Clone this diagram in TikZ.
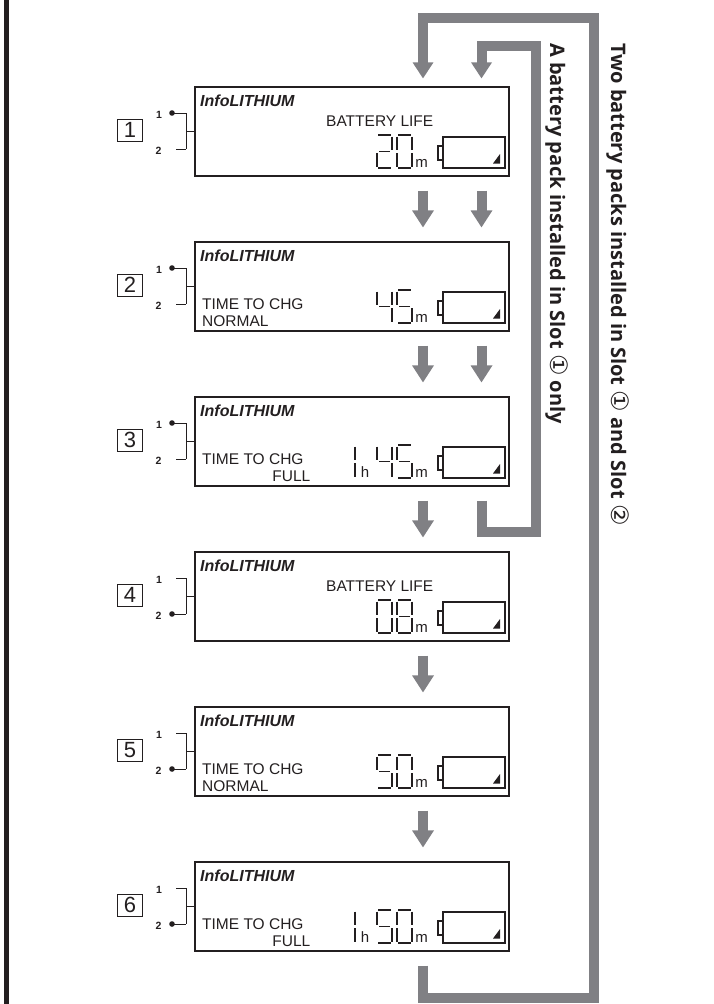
\documentclass[tikz,border=0pt]{standalone}
\usepackage{fontspec}
\setmainfont{Liberation Sans}
\newfontfamily\lblfont{Open Sans}
\newfontfamily\symfont{DejaVu Sans}
\usetikzlibrary{calc}

\definecolor{pgray}{HTML}{808084}
\definecolor{ink}{HTML}{231F20}

\tikzset{
 display/.style={draw=ink, line width=1.3pt, minimum width=314pt, minimum height=89pt, inner sep=0pt},
 numsq/.style={draw=ink, line width=1pt, minimum width=25pt, minimum height=22pt, inner sep=0pt, font=\fontsize{22}{22}\selectfont, text=ink},
 slotlbl/.style={font=\bfseries\fontsize{10.5}{10.5}\selectfont, inner sep=0pt, text=ink},
 brk/.style={draw=ink, line width=1pt},
 seg/.style={draw=ink, line width=1.7pt},
 lcd/.style={font=\fontsize{15.5}{15.5}\selectfont, inner sep=0pt, text=ink},
 brand/.style={font=\bfseries\itshape\fontsize{16}{16}\selectfont, inner sep=0pt, text=ink},
 unitlbl/.style={font=\fontsize{15}{15}\selectfont, inner sep=0pt, text=ink},
 flowline/.style={draw=pgray, line width=10pt, line join=miter},
 sidelabel/.style={font=\lblfont\bfseries\fontsize{20}{20}\selectfont, rotate=-90, anchor=base west, inner sep=0pt, text=ink},
 slotdot/.style={circle, fill=ink, inner sep=0pt, minimum size=5.6pt},
}

% seven segment pieces: #1 = left x, #2 = top y
\newcommand\lcdsega[2]{\draw[seg] (#1+1,#2) -- (#1+14,#2);}
\newcommand\lcdsegb[2]{\draw[seg] (#1+15,#2+1.5) -- (#1+15,#2+15);}
\newcommand\lcdsegc[2]{\draw[seg] (#1+15,#2+18) -- (#1+15,#2+31.5);}
\newcommand\lcdsegd[2]{\draw[seg] (#1+1,#2+33) -- (#1+14,#2+33);}
\newcommand\lcdsege[2]{\draw[seg] (#1,#2+18) -- (#1,#2+31.5);}
\newcommand\lcdsegf[2]{\draw[seg] (#1,#2+1.5) -- (#1,#2+15);}
\newcommand\lcdsegg[2]{\draw[seg] (#1+2,#2+16.5) -- (#1+13,#2+16.5);}
\newcommand\lcddigit[3]{\edef\lcdlist{#3}\foreach \s in \lcdlist {\csname lcdseg\s\endcsname{#1}{#2}}}
\newcommand\digzero{a,b,c,d,e,f}
\newcommand\digone{b,c}
\newcommand\digtwo{a,b,g,e,d}
\newcommand\digfour{f,g,b,c}
\newcommand\digfive{a,f,g,c,d}
\newcommand\digeight{a,b,c,d,e,f,g}
\newcommand\circnum[1]{{\symfont\mdseries\fontsize{24}{24}\selectfont #1}}

% display frame: #1 name, #2 number, #3 top y, #4 active slot, #5 extra content
\newcommand\dispframe[5]{%
 \begin{scope}[shift={(0,#3)}]
  \node[display] (#1) at (352,44.5) {};
  \node[numsq] (n#1) at (130,43) {#2};
  \node[slotlbl] (sa#1) at (159,27.5) {1};
  \node[slotlbl] (sb#1) at (158.5,63.5) {2};
  \coordinate (bt#1) at (186,26);
  \coordinate (bb#1) at (186,62);
  \coordinate (bm#1) at (186,44);
  \draw[brk] (bt#1) -- (bb#1);
  \draw[brk] (bm#1) -- (bm#1 -| #1.west);
  \ifnum#4=1
   \node[slotdot] (dot#1) at (172,26) {};
   \draw[brk] (dot#1.center) -- (bt#1);
   \coordinate (ln#1) at (176,62);
   \draw[brk] (ln#1) -- (bb#1);
  \else
   \node[slotdot] (dot#1) at (172,62) {};
   \draw[brk] (dot#1.center) -- (bb#1);
   \coordinate (ln#1) at (176,26);
   \draw[brk] (ln#1) -- (bt#1);
  \fi
  \node[brand, anchor=base west] (br#1) at (200,19.5) {InfoLITHIUM};
  \node[unitlbl, anchor=base] (m#1) at (421.5,80) {m};
  \draw[ink, line width=1.5pt] (443,50) rectangle (505,81);
  \draw[ink, line width=1.2pt] (438,59) rectangle (443,73);
  \fill[ink] (493,76.5) -- (500,76.5) -- (500,67) -- cycle;
  #5
 \end{scope}}

\newcommand\garrow[2]{%
 \draw[flowline] (#1) -- ($(#2)+(0,-16.5)$);
 \fill[pgray] (#2) -- ++(-11,-17) -- ++(22,0) -- cycle;}

\begin{document}
\begin{tikzpicture}[x=1pt,y=-1pt]
\useasboundingbox (0,0) rectangle (714,1004);
\fill[ink] (4,0) rectangle (8.5,1004);

\dispframe{d1}{1}{87}{1}{%
  \node[lcd, anchor=base east] (t1) at (433.5,39.5) {BATTERY LIFE};
  \lcddigit{377}{48}{\digtwo}
  \lcddigit{397}{48}{\digzero}}
\dispframe{d2}{2}{242}{1}{%
  \node[lcd, anchor=base west] (t2) at (202,67.5) {TIME TO CHG};
  \node[lcd, anchor=base west] (u2) at (202,84) {NORMAL};
  \lcddigit{377}{48}{\digfour}
  \lcddigit{397}{48}{\digfive}}
\dispframe{d3}{3}{397}{1}{%
  \node[lcd, anchor=base west] (t3) at (202,67.5) {TIME TO CHG};
  \node[lcd, anchor=base east] (u3) at (310.5,84) {FULL};
  \lcddigit{340}{48}{\digone}
  \node[unitlbl, anchor=base] (h3) at (365,80) {h};
  \lcddigit{377}{48}{\digfour}
  \lcddigit{397}{48}{\digfive}}
\dispframe{d4}{4}{552}{2}{%
  \node[lcd, anchor=base east] (t4) at (433.5,39.5) {BATTERY LIFE};
  \lcddigit{377}{48}{\digzero}
  \lcddigit{397}{48}{\digeight}}
\dispframe{d5}{5}{707}{2}{%
  \node[lcd, anchor=base west] (t5) at (202,67.5) {TIME TO CHG};
  \node[lcd, anchor=base west] (u5) at (202,84) {NORMAL};
  \lcddigit{377}{48}{\digfive}
  \lcddigit{397}{48}{\digzero}}
\dispframe{d6}{6}{862}{2}{%
  \node[lcd, anchor=base west] (t6) at (202,67.5) {TIME TO CHG};
  \node[lcd, anchor=base east] (u6) at (310.5,84) {FULL};
  \lcddigit{340}{48}{\digone}
  \node[unitlbl, anchor=base] (h6) at (365,80) {h};
  \lcddigit{377}{48}{\digfive}
  \lcddigit{397}{48}{\digzero}}

% arrows between displays
\foreach \a/\b in {d1/d2,d2/d3,d3/d4,d4/d5,d5/d6}{
  \coordinate (s\a) at ($(\a.south)+(71,14)$);
  \coordinate (e\a) at ($(\b.north)+(71,-14)$);
  \garrow{s\a}{e\a}
}
\foreach \a/\b in {d1/d2,d2/d3}{
  \coordinate (r\a) at ($(\a.south)+(129.5,14)$);
  \coordinate (q\a) at ($(\b.north)+(129.5,-14)$);
  \garrow{r\a}{q\a}
}

% outer loop (two packs)
\coordinate (os) at ($(d6.south)+(71,14)$);
\coordinate (ot) at ($(d1.north)+(71,-8)$);
\draw[flowline] (os) -- ++(0,32) -| (593.5,17.5) -| ($(ot)+(0,-15.5)$);
\fill[pgray] (ot) -- ++(-10.5,-16) -- ++(21,0) -- cycle;

% inner loop (one pack)
\coordinate (is) at ($(d3.south)+(129.5,14)$);
\coordinate (it) at ($(d1.north)+(129.5,-8)$);
\draw[flowline] (is) -- ++(0,31.5) -| (536,45.5) -| ($(it)+(0,-15.5)$);
\fill[pgray] (it) -- ++(-10.5,-16) -- ++(21,0) -- cycle;

\node[sidelabel] (lbl1) at (550,43) {A battery pack installed in Slot \circnum{①} only};
\node[sidelabel] (lbl2) at (611,43) {Two battery packs installed in Slot \circnum{①} and Slot \circnum{②}};
\end{tikzpicture}
\end{document}
